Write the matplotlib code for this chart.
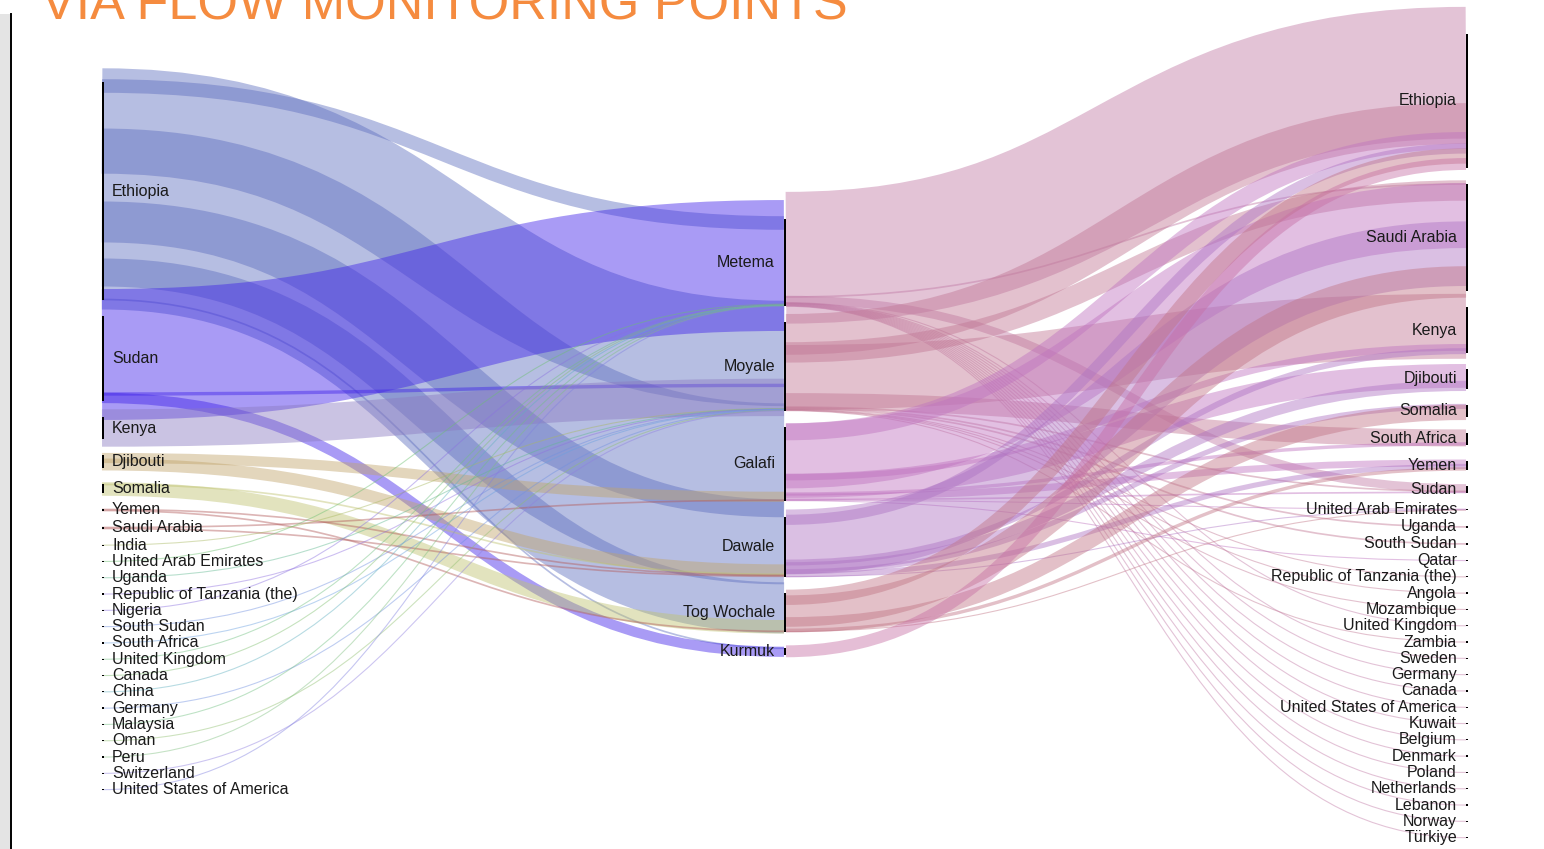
import matplotlib
matplotlib.use("Agg")
import matplotlib.pyplot as plt
from matplotlib.path import Path
from matplotlib.patches import PathPatch, Rectangle

W, H, DPI = 1544, 849, 100

# ---------------- data ----------------
origins = ["Ethiopia", "Sudan", "Kenya", "Djibouti", "Somalia", "Yemen", "Saudi Arabia",
           "India", "United Arab Emirates", "Uganda", "Republic of Tanzania (the)", "Nigeria",
           "South Sudan", "South Africa", "United Kingdom", "Canada", "China", "Germany",
           "Malaysia", "Oman", "Peru", "Switzerland", "United States of America"]
points = ["Metema", "Moyale", "Galafi", "Dawale", "Tog Wochale", "Kurmuk"]
destinations = ["Ethiopia", "Saudi Arabia", "Kenya", "Djibouti", "Somalia", "South Africa",
                "Yemen", "Sudan", "United Arab Emirates", "Uganda", "South Sudan", "Qatar",
                "Republic of Tanzania (the)", "Angola", "Mozambique", "United Kingdom", "Zambia",
                "Sweden", "Germany", "Canada", "United States of America", "Kuwait", "Belgium",
                "Denmark", "Poland", "Netherlands", "Lebanon", "Norway", "Türkiye"]

# origin -> monitoring point
in_src = ["Ethiopia", "Ethiopia", "Ethiopia", "Ethiopia", "Ethiopia", "Ethiopia",
          "Sudan", "Sudan", "Sudan",
          "Kenya", "Djibouti", "Djibouti", "Somalia", "Somalia",
          "Yemen", "Yemen", "Saudi Arabia", "Saudi Arabia",
          "India", "United Arab Emirates", "Uganda", "Republic of Tanzania (the)", "Nigeria",
          "South Sudan", "South Africa", "United Kingdom", "Canada", "China", "Germany",
          "Malaysia", "Oman", "Peru", "Switzerland", "United States of America"]
in_tgt = ["Metema", "Moyale", "Galafi", "Dawale", "Tog Wochale", "Kurmuk",
          "Metema", "Moyale", "Kurmuk",
          "Moyale", "Galafi", "Dawale", "Tog Wochale", "Dawale",
          "Dawale", "Tog Wochale", "Galafi", "Dawale",
          "Moyale", "Metema", "Moyale", "Moyale", "Metema",
          "Moyale", "Moyale", "Metema", "Metema", "Metema", "Moyale",
          "Metema", "Moyale", "Metema", "Moyale", "Metema"]
in_val = [8, 62, 67, 50, 30, 1,
          77, 2, 6,
          22, 6, 7, 8, 1,
          1, 1, 1, 1,
          0.3, 0.3, 0.3, 0.3, 0.3, 0.3, 0.3, 0.3, 0.3, 0.3, 0.3, 0.3, 0.3, 0.3, 0.3, 0.3]

# monitoring point -> destination
out_src = ["Metema", "Metema", "Metema",
           "Metema", "Metema", "Metema", "Metema", "Metema", "Metema", "Metema",
           "Metema", "Metema", "Metema", "Metema", "Metema", "Metema",
           "Moyale", "Moyale", "Moyale", "Moyale", "Moyale", "Moyale", "Moyale",
           "Moyale", "Moyale", "Moyale", "Moyale",
           "Galafi", "Galafi", "Galafi", "Galafi", "Galafi", "Galafi", "Galafi", "Galafi", "Galafi",
           "Dawale", "Dawale", "Dawale", "Dawale", "Dawale", "Dawale", "Dawale",
           "Tog Wochale", "Tog Wochale", "Tog Wochale", "Tog Wochale", "Tog Wochale",
           "Kurmuk"]
out_tgt = ["Ethiopia", "Saudi Arabia", "Sudan",
           "United Kingdom", "Sweden", "Germany", "Canada", "United States of America", "Kuwait",
           "Belgium", "Denmark", "Poland", "Netherlands", "Lebanon", "Norway", "Türkiye",
           "Ethiopia", "Saudi Arabia", "Kenya", "South Africa", "Sudan", "Uganda", "South Sudan",
           "Republic of Tanzania (the)", "Angola", "Mozambique", "Zambia",
           "Ethiopia", "Saudi Arabia", "Kenya", "Djibouti", "South Africa", "Yemen", "Sudan",
           "United Arab Emirates", "Qatar",
           "Ethiopia", "Saudi Arabia", "Kenya", "Djibouti", "Somalia", "Yemen", "United Arab Emirates",
           "Ethiopia", "Saudi Arabia", "Somalia", "Yemen", "United Arab Emirates",
           "Ethiopia"]
out_val = [77.5, 1, 5,
           0.3, 0.3, 0.3, 0.3, 0.3, 0.3, 0.3, 0.3, 0.3, 0.3, 0.3, 0.3, 0.3,
           24, 12, 38.2, 10, 1, 1, 1, 0.3, 0.3, 0.3, 0.3,
           10, 38.2, 4, 14, 2, 4, 1, 0.5, 0.3,
           6, 38, 3.5, 6, 3, 3, 0.5,
           9, 18.5, 9, 2, 0.5,
           7]

origin_colors = {
    "Ethiopia": "#5f6fbf", "Sudan": "#4023e9", "Kenya": "#8b7ac1", "Djibouti": "#c1a46c",
    "Somalia": "#bfc36f", "Yemen": "#b35c5c", "Saudi Arabia": "#b35c5c",
    "India": "#a8b860", "United Arab Emirates": "#6cc070", "Uganda": "#60b890",
    "Republic of Tanzania (the)": "#9070e0", "Nigeria": "#8a70e0", "South Sudan": "#7090e0",
    "South Africa": "#6aa0e0", "United Kingdom": "#70c080", "Canada": "#80c070",
    "China": "#60b0c0", "Germany": "#7090e0", "Malaysia": "#70c080", "Oman": "#90c070",
    "Peru": "#80c080", "Switzerland": "#9080e0", "United States of America": "#8080e0"}
point_colors = {"Metema": "#c17aa6", "Moyale": "#c17794", "Galafi": "#bf73bf",
                "Dawale": "#ad73c3", "Tog Wochale": "#c17585", "Kurmuk": "#c76fa4"}

TITLE = "VIA FLOW MONITORING POINTS"

# ---------------- layout ----------------
X_LEFT, X_MID, X_RIGHT = 104, 785, 1467
BAR_W = 2.6
GAP = 16
STRETCH = 1.7      # drawn link width relative to node slot (as in the source render)
ALPHA = 0.45


def node_values(names, links_in, links_out):
    vals = {}
    for n in names:
        vin = sum(v for (s, t, v) in links_in if t == n)
        vout = sum(v for (s, t, v) in links_out if s == n)
        vals[n] = max(vin, vout)
    return vals


L_in = list(zip(in_src, in_tgt, in_val))
L_out = list(zip(out_src, out_tgt, out_val))

v_org = node_values(origins, [], L_in)
v_pt = node_values(points, L_in, L_out)
v_dst = node_values(destinations, L_out, [])


def stack(names, vals, y0):
    tops = {}
    y = y0
    for n in names:
        tops[n] = y
        y += vals[n] + GAP
    return tops


t_org = stack(origins, v_org, 82)
t_pt = stack(points, v_pt, 219)
t_dst = stack(destinations, v_dst, 34)

fig = plt.figure(figsize=(W / DPI, H / DPI), dpi=DPI)
ax = fig.add_axes([0, 0, 1, 1])
ax.set_xlim(0, W)
ax.set_ylim(H, 0)
ax.axis("off")


def draw_links(links, src_names, tgt_names, t_src, t_tgt, x0, x1, colors):
    so = {n: 0.0 for n in src_names}
    to = {n: 0.0 for n in tgt_names}
    pos_src = {n: i for i, n in enumerate(src_names)}
    pos_tgt = {n: i for i, n in enumerate(tgt_names)}
    ys_c = {}
    for s in src_names:
        for (a, b, v) in sorted([l for l in links if l[0] == s], key=lambda l: pos_tgt[l[1]]):
            ys_c[(a, b)] = [t_src[a] + so[a] + v / 2, None]
            so[a] += v
    for t in tgt_names:
        for (a, b, v) in sorted([l for l in links if l[1] == t], key=lambda l: pos_src[l[0]]):
            ys_c[(a, b)][1] = t_tgt[b] + to[b] + v / 2
            to[b] += v
    xm = (x0 + x1) / 2
    for (a, b, v) in links:
        y0, y1 = ys_c[(a, b)]
        wpx = max(v * STRETCH, 1.1)
        path = Path([(x0, y0), (xm, y0), (xm, y1), (x1, y1)],
                    [Path.MOVETO, Path.CURVE4, Path.CURVE4, Path.CURVE4])
        ax.add_patch(PathPatch(path, facecolor="none", edgecolor=colors[a], alpha=ALPHA,
                               lw=wpx * 72 / DPI, capstyle="butt", zorder=2))


draw_links(L_in, origins, points, t_org, t_pt, X_LEFT - 2, X_MID - 1, origin_colors)
draw_links(L_out, points, destinations, t_pt, t_dst, X_MID + 1, X_RIGHT - 1, point_colors)

FONT = "Liberation Sans"
FS = 11.5


def draw_nodes(names, vals, tops, x, side):
    for n in names:
        h = max(vals[n], 1.3)
        top = tops[n] + vals[n] / 2 - h / 2
        ax.add_patch(Rectangle((x - BAR_W / 2, top), BAR_W, h, color="black", lw=0, zorder=4))
        yc = tops[n] + vals[n] / 2
        if side == "right":
            ax.text(x + 9, yc, n, ha="left", va="center", fontsize=FS, family=FONT,
                    color="#1a1a1a", zorder=5)
        else:
            ax.text(x - 10, yc, n, ha="right", va="center", fontsize=FS, family=FONT,
                    color="#1a1a1a", zorder=5)


draw_nodes(origins, v_org, t_org, X_LEFT - 1, "right")
draw_nodes(points, v_pt, t_pt, X_MID, "left")
draw_nodes(destinations, v_dst, t_dst, X_RIGHT, "left")

# title (cut at the top of the frame, as in the source)
ax.text(41, 19, TITLE, ha="left", va="baseline", fontsize=37.5, family=FONT,
        color="#f58b3f", zorder=5)

# edge of a neighbouring map panel on the far left
ax.add_patch(Rectangle((0, 14), 10, H, facecolor="#e4e4e4", edgecolor="none", zorder=1))
ax.plot([11, 11], [14, H], color="black", lw=1.4, zorder=3)

fig.savefig("out.png", dpi=DPI)
